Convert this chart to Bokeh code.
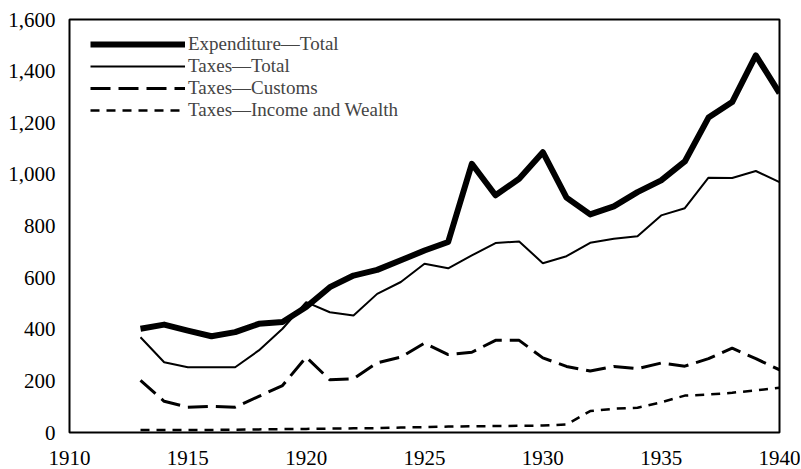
from bokeh.plotting import figure
from bokeh.models import FixedTicker, NumeralTickFormatter, Range1d, Legend, LegendItem
from bokeh.embed import file_html
from bokeh.resources import INLINE

years = list(range(1913, 1941))
expenditure_total = [402, 418, 395, 373, 389, 421, 428, 486, 563, 608, 630, 667, 705, 738,
                     1041, 919, 983, 1086, 910, 845, 876, 931, 977, 1050, 1220, 1280, 1461, 1315]
taxes_total = [369, 272, 253, 253, 253, 318, 402, 505, 466, 453, 537, 583, 654, 636,
               686, 734, 740, 656, 683, 735, 751, 760, 841, 869, 987, 986, 1013, 970]
taxes_customs = [202, 121, 98, 101, 98, 140, 182, 292, 204, 208, 270, 292, 346, 302,
                 311, 357, 357, 289, 256, 238, 256, 247, 269, 257, 286, 327, 286, 243]
taxes_income_wealth = [10, 10, 10, 10, 11, 12, 13, 14, 15, 16, 17, 19, 21, 23,
                       24, 25, 26, 27, 31, 83, 92, 96, 117, 143, 147, 154, 163, 173]

x_ticks = [1910, 1915, 1920, 1925, 1930, 1935, 1940]
y_ticks = [0, 200, 400, 600, 800, 1000, 1200, 1400, 1600]
labels = ["Expenditure\u2014Total", "Taxes\u2014Total", "Taxes\u2014Customs",
          "Taxes\u2014Income and Wealth"]

FONT = "Liberation Serif"

p = figure(width=800, height=468, output_backend="svg", toolbar_location=None,
           x_range=Range1d(1910, 1940), y_range=Range1d(0, 1600),
           min_border_left=69, min_border_right=21, min_border_top=19, min_border_bottom=36)

r1 = p.line(years, expenditure_total, line_color="black", line_width=6, line_join="round")
r2 = p.line(years, taxes_total, line_color="black", line_width=2)
r3 = p.line(years, taxes_customs, line_color="black", line_width=3, line_dash="20 8")
r4 = p.line(years, taxes_income_wealth, line_color="black", line_width=2.5, line_dash="9 7")

p.xgrid.visible = False
p.ygrid.visible = False
p.outline_line_color = "black"
p.outline_line_width = 2
p.outline_line_alpha = 1
p.background_fill_color = "white"
p.border_fill_color = "white"

p.xaxis.ticker = FixedTicker(ticks=x_ticks)
p.yaxis.ticker = FixedTicker(ticks=y_ticks)
p.yaxis.formatter = NumeralTickFormatter(format="0,0")
for ax in (p.xaxis, p.yaxis):
    ax.axis_line_color = None
    ax.major_tick_line_color = None
    ax.minor_tick_line_color = None
    ax.major_tick_out = 0
    ax.major_tick_in = 0
    ax.minor_tick_out = 0
    ax.major_label_text_font = FONT
    ax.major_label_text_font_size = "21px"
    ax.major_label_text_color = "black"
p.yaxis.major_label_standoff = 14
p.xaxis.major_label_standoff = 18

# one legend per row so the rows can sit as tightly as in the reference
legend_rows = [(labels[0], r1, 377), (labels[1], r2, 355), (labels[2], r3, 333), (labels[3], r4, 311)]
for lab, rend, ypos in legend_rows:
    lg = Legend(items=[LegendItem(label=lab, renderers=[rend])],
                location=(21, ypos), glyph_width=95, glyph_height=20, label_standoff=3,
                spacing=0, padding=0, margin=0, label_height=20,
                label_text_font=FONT, label_text_font_size="19px",
                border_line_alpha=0, background_fill_alpha=0)
    p.add_layout(lg)

open("out.html", "w").write(file_html(p, INLINE))
